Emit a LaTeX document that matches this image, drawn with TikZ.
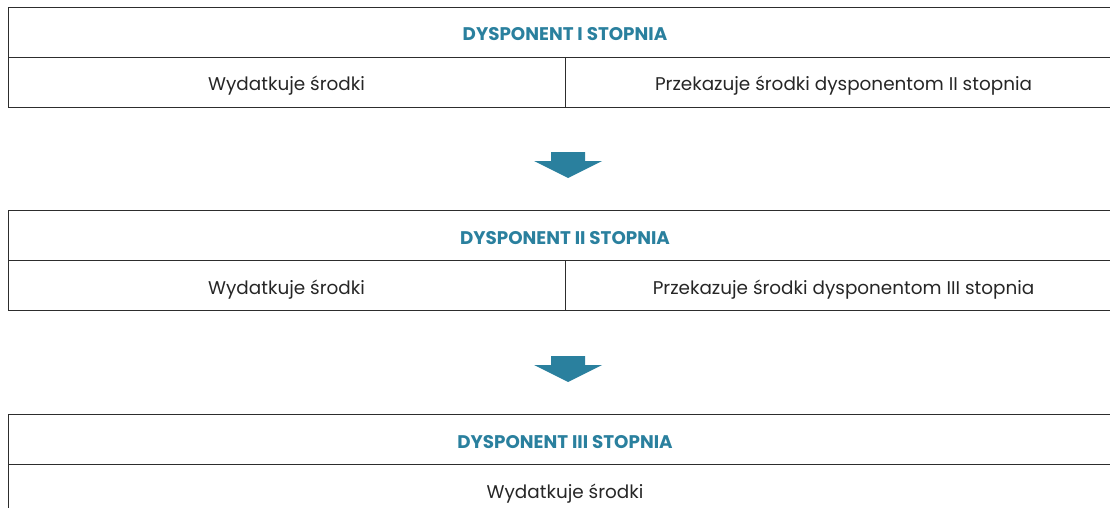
\documentclass[tikz,border=0pt]{standalone}
\usepackage{fontspec}
\setmainfont{Poppins}
\usepackage{xcolor}
\usetikzlibrary{positioning}
\definecolor{dteal}{RGB}{42, 128, 158}
\definecolor{rule}{RGB}{45, 45, 45}

\tikzset{
  cell/.style={draw=rule, line width=0.9pt, rectangle, outer sep=0pt, inner sep=0pt,
    minimum height=50pt, anchor=north west, text height=18pt, text depth=0pt,
    font=\fontsize{18.4}{22}\selectfont, text=black!85},
  head/.style={cell, minimum width=1114pt, font=\fontsize{18.3}{22}\bfseries\selectfont, text=dteal},
  half/.style={cell, minimum width=557pt},
  down/.style={fill=dteal, draw=none}
}

\begin{document}
\begin{tikzpicture}[x=1pt, y=-1pt]
  \useasboundingbox (0,0) rectangle (1110,508);
  \clip (0,0) rectangle (1110,508);

  % Level I
  \node[head] (h1) at (8,7) {DYSPONENT I STOPNIA};
  \node[half] (l1) at (h1.south west) {Wydatkuje środki};
  \node[half] (r1) at (l1.north east) {Przekazuje środki dysponentom II stopnia};

  % Level II
  \node[head] (h2) at (8,210) {DYSPONENT II STOPNIA};
  \node[half] (l2) at (h2.south west) {Wydatkuje środki};
  \node[half] (r2) at (l2.north east) {Przekazuje środki dysponentom III stopnia};

  % Level III
  \node[head] (h3) at (8,414) {DYSPONENT III STOPNIA};
  \node[cell, minimum width=1114pt] (l3) at (h3.south west) {Wydatkuje środki};

  % Arrows
  \coordinate (a1) at (568,152);
  \coordinate (a2) at (568,356);
  \foreach \a in {a1, a2} {
    \fill[down] ([xshift=-17pt]\a) -- ([xshift=17pt]\a) -- ([xshift=17pt, yshift=-9pt]\a)
      -- ([xshift=34pt, yshift=-9pt]\a) -- ([yshift=-26pt]\a)
      -- ([xshift=-34pt, yshift=-9pt]\a) -- ([xshift=-17pt, yshift=-9pt]\a) -- cycle;
  }
\end{tikzpicture}
\end{document}
